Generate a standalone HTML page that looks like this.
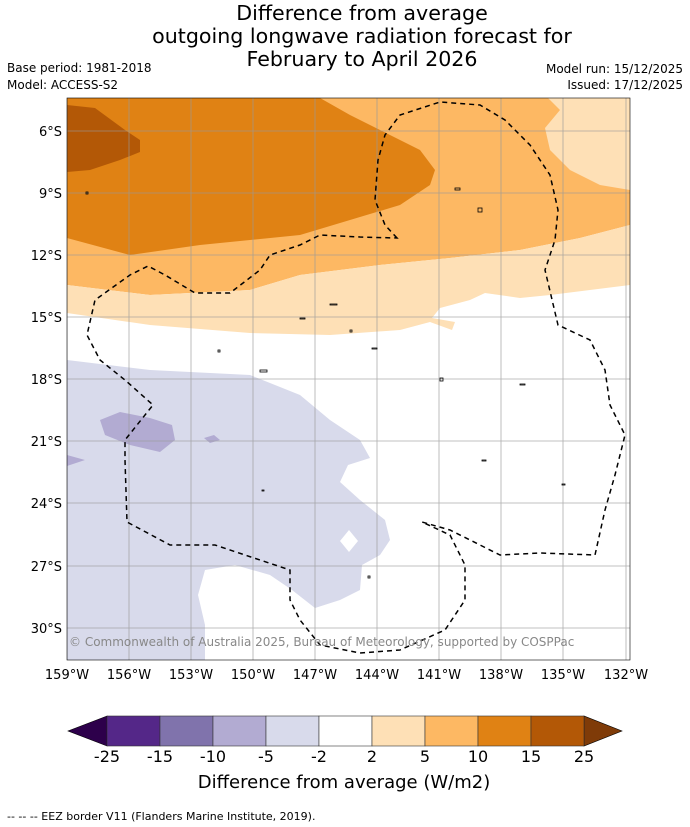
<!DOCTYPE html>
<html><head><meta charset="utf-8"><style>
body{margin:0;background:#fff;font-family:"DejaVu Sans","Liberation Sans",sans-serif;}
#wrap{position:relative;width:690px;height:827px;overflow:hidden;}
</style></head><body>
<div id="wrap">
<svg width="690" height="827" viewBox="0 0 690 827" font-family="DejaVu Sans, Liberation Sans, sans-serif">
<g font-size="20.6" text-anchor="middle" fill="#000">
<text x="362" y="20">Difference from average</text>
<text x="362" y="43">outgoing longwave radiation forecast for</text>
<text x="362" y="66">February to April 2026</text>
</g>
<g font-size="12" fill="#000">
<text x="7" y="72">Base period: 1981-2018</text>
<text x="7" y="89">Model: ACCESS-S2</text>
<text x="683" y="73" text-anchor="end">Model run: 15/12/2025</text>
<text x="683" y="89" text-anchor="end">Issued: 17/12/2025</text>
</g>
<defs><clipPath id="mc"><rect x="67" y="98" width="563" height="562"/></clipPath></defs>
<g clip-path="url(#mc)">
<rect x="67" y="98" width="563" height="562" fill="#fff"/>
<path fill="#fdb863" d="M67,98 H630 V225 L580,238 L520,250 L450,258 L380,265 L300,275 L250,290 L150,295 L67,285 Z"/>
<path fill="#fee0b6" d="M548,98 H630 V190 L600,185 L570,170 L550,150 L545,128 L560,110 Z"/>
<path fill="#fee0b6" d="M67,285 L150,295 L250,290 L300,275 L380,265 L450,258 L520,250 L580,238 L630,225 V285 L590,290 L550,295 L520,298 L485,293 L470,300 L440,308 L432,318 L455,322 L452,330 L430,322 L400,330 L330,335 L250,333 L150,325 L67,313 Z"/>
<path fill="#e08214" d="M67,98 H320 L350,115 L390,135 L420,150 L435,170 L430,185 L400,205 L350,220 L300,235 L200,245 L130,255 L67,238 Z"/>
<path fill="#b35806" d="M67,105 L95,108 L125,130 L140,140 L140,152 L120,160 L90,170 L67,172 Z"/>
<path fill="#d8daeb" d="M67,360 L150,370 L250,375 L300,395 L330,420 L360,440 L370,458 L348,465 L340,482 L360,500 L385,520 L390,540 L380,555 L362,565 L360,590 L340,600 L315,608 L292,590 L270,575 L235,565 L205,570 L198,595 L205,625 L205,660 L67,660 Z M340,541 L349,530 L358,541 L349,552 Z" fill-rule="evenodd"/>
<path fill="#b2abd2" d="M100,420 L120,412 L150,418 L172,425 L175,440 L160,452 L130,445 L105,435 Z M67,455 L85,460 L67,466 Z M204,438 L214,435 L220,440 L210,443 Z"/>
<g stroke="#999" stroke-width="0.8" opacity="0.8">
<line x1="67" y1="98" x2="67" y2="660"/><line x1="129" y1="98" x2="129" y2="660"/><line x1="191" y1="98" x2="191" y2="660"/><line x1="253" y1="98" x2="253" y2="660"/><line x1="315" y1="98" x2="315" y2="660"/><line x1="377" y1="98" x2="377" y2="660"/><line x1="439" y1="98" x2="439" y2="660"/><line x1="501" y1="98" x2="501" y2="660"/><line x1="563" y1="98" x2="563" y2="660"/><line x1="626" y1="98" x2="626" y2="660"/>
<line x1="67" y1="131" x2="630" y2="131"/><line x1="67" y1="193" x2="630" y2="193"/><line x1="67" y1="255" x2="630" y2="255"/><line x1="67" y1="317" x2="630" y2="317"/><line x1="67" y1="379" x2="630" y2="379"/><line x1="67" y1="441" x2="630" y2="441"/><line x1="67" y1="503" x2="630" y2="503"/><line x1="67" y1="566" x2="630" y2="566"/><line x1="67" y1="628" x2="630" y2="628"/>
</g>
<path fill="none" stroke="#000" stroke-width="1.5" stroke-dasharray="5,4" d="M397,238 L385,225 L375,200 L378,160 L385,135 L400,115 L440,102 L480,105 L505,120 L530,145 L550,175 L558,210 L555,240 L545,270 L558,325 L590,340 L605,370 L610,405 L625,435 L615,475 L605,510 L595,555 L540,553 L500,555 L470,540 L450,530 L422,522 L450,535 L465,565 L465,600 L445,630 L400,650 L360,653 L320,645 L300,620 L290,600 L290,570 L260,560 L215,545 L170,545 L127,522 L125,460 L125,440 L153,405 L125,380 L100,360 L87,335 L95,300 L130,275 L148,266 L165,275 L195,293 L230,293 L260,270 L270,255 L300,245 L320,235 L360,237 Z"/>
<g fill="none" stroke="#000" stroke-width="0.8">
<rect x="455" y="188" width="5" height="2"/><rect x="478" y="208" width="4" height="4"/><rect x="330" y="304" width="7" height="1"/><rect x="300" y="318" width="5" height="1"/><rect x="350" y="330" width="2" height="2"/><rect x="372" y="348" width="5" height="1"/><rect x="218" y="350" width="2" height="2"/><rect x="260" y="370" width="7" height="2"/><rect x="440" y="378" width="3" height="3"/><rect x="482" y="460" width="4" height="1"/><rect x="562" y="484" width="3" height="1"/><rect x="520" y="384" width="5" height="1"/><rect x="86" y="192" width="2" height="2"/><rect x="262" y="490" width="2" height="1"/><rect x="368" y="576" width="2" height="2"/>
</g>
<text x="69" y="646" font-size="12" fill="#888">© Commonwealth of Australia 2025, Bureau of Meteorology, supported by COSPPac</text>
</g>
<rect x="67" y="98" width="563" height="562" fill="none" stroke="#000" stroke-width="0.6"/>
<g font-size="13" text-anchor="end" fill="#000">
<text x="62" y="136">6°S</text><text x="62" y="198">9°S</text><text x="62" y="260">12°S</text><text x="62" y="322">15°S</text><text x="62" y="384">18°S</text><text x="62" y="446">21°S</text><text x="62" y="508">24°S</text><text x="62" y="571">27°S</text><text x="62" y="633">30°S</text>
</g>
<g font-size="13" text-anchor="middle" fill="#000">
<text x="67" y="679">159°W</text><text x="129" y="679">156°W</text><text x="191" y="679">153°W</text><text x="253" y="679">150°W</text><text x="315" y="679">147°W</text><text x="377" y="679">144°W</text><text x="439" y="679">141°W</text><text x="501" y="679">138°W</text><text x="563" y="679">135°W</text><text x="626" y="679">132°W</text>
</g>
<g id="cbar"></g>
<text x="344" y="788" font-size="18" text-anchor="middle">Difference from average (W/m2)</text>
<text x="7" y="820" font-size="11">-- -- -- EEZ border V11 (Flanders Marine Institute, 2019).</text>
</svg>
</div>
<script>
const levels = [-25, -15, -10, -5, -2, 2, 5, 10, 15, 25];
const colors = ["#542788", "#8073ac", "#b2abd2", "#d8daeb", "#ffffff", "#fee0b6", "#fdb863", "#e08214", "#b35806"];
const extendColors = ["#2d004b", "#7f3b08"];
const NS = "http://www.w3.org/2000/svg";
const g = document.getElementById("cbar");
const x0 = 107, x1 = 584, y0 = 716, y1 = 746;
const step = (x1 - x0) / (levels.length - 1);
const xi = i => x0 + i * step;
function mk(t, a) { const e = document.createElementNS(NS, t); for (const k in a) e.setAttribute(k, a[k]); g.appendChild(e); return e; }
let lt = mk("polygon", { points: `${x0},${y0} ${x0},${y1} 68,${(y0+y1)/2}`, fill: extendColors[0], stroke: "#000", "stroke-width": 0.6 });


let rt = mk("polygon", { points: `${x1},${y0} ${x1},${y1} 622,${(y0+y1)/2}`, fill: extendColors[1], stroke: "#000", "stroke-width": 0.6 });


colors.forEach((c, i) => {
  const r = mk("rect", { x: xi(i), y: y0, width: step, height: y1 - y0, fill: c, stroke: "#333", "stroke-width": 0.6 });
  
  
});
levels.forEach((v, i) => {
  const t = mk("text", { x: xi(i), y: 762, "font-size": 16, "text-anchor": "middle" });
  t.textContent = v;
  
  
});
</script>
</body></html>
